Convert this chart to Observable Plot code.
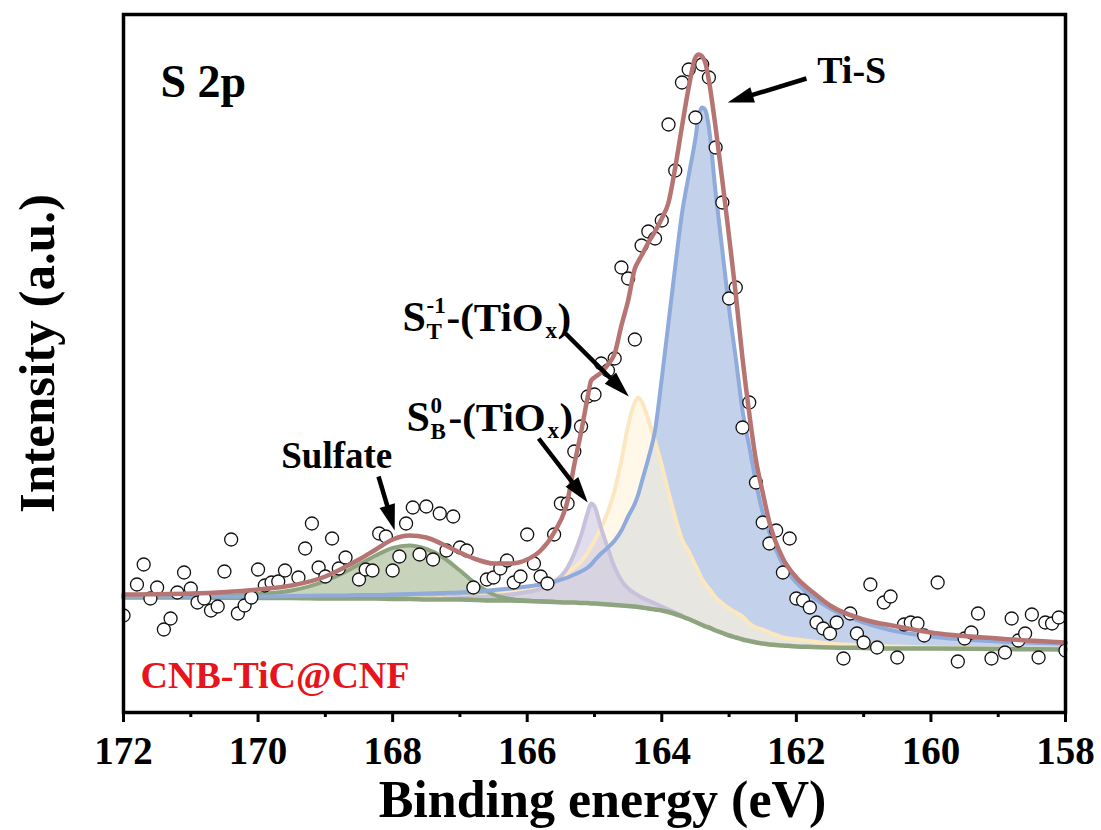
<!DOCTYPE html>
<html><head><meta charset="utf-8">
<script src="https://cdn.jsdelivr.net/npm/d3@7"></script>
<script src="https://cdn.jsdelivr.net/npm/@observablehq/plot@0.6"></script>
<style>
html,body{margin:0;padding:0;background:#fff;}
#chart{width:1101px;height:830px;overflow:hidden;}
</style></head><body><div id="chart"></div>
<script>
// ---------- measured spectrum (binding energy in eV, intensity in a.u.) ----------
const scatterEnergy = [172.0,171.8,171.7,171.6,171.5,171.4,171.3,171.2,171.1,171.0,
170.9,170.8,170.7,170.6,170.5,170.4,170.3,170.2,170.1,170.0,
169.9,169.8,169.7,169.6,169.4,169.3,169.2,169.1,169.0,
168.9,168.8,168.7,168.5,168.4,168.3,168.2,168.1,168.0,
167.9,167.8,167.7,167.6,167.5,167.4,167.3,167.2,167.1,167.0,
166.9,166.8,166.6,166.5,166.4,166.3,166.2,166.1,166.0,
165.9,165.8,165.7,165.6,165.5,165.4,165.3,165.2,165.1,165.0,
164.9,164.8,164.7,164.6,164.5,164.4,164.3,164.2,164.1,164.0,
163.9,163.8,163.7,163.6,163.5,163.4,163.3,163.2,163.1,163.0,
162.9,162.8,162.7,162.6,162.5,162.4,162.3,162.2,162.1,162.0,
161.9,161.8,161.7,161.6,161.5,161.4,161.3,161.2,161.1,161.0,
160.9,160.8,160.7,160.6,160.5,160.4,160.3,160.2,160.1,
159.9,159.6,159.5,159.4,159.3,159.1,
158.9,158.8,158.7,158.6,158.5,158.4,158.3,158.2,158.1,158.0];
const scatterIntensity = [97,128,148,114,125,83,94,120,140,124,
110,114,102,106,141,173,99,107,115,143,
127,130,131,142,135,164,189,145,136,
174,144,155,133,143,142,179,176,142,
156,189,205,158,206,153,199,162,196,165,
162,125,133,135,144,152,130,136,178,
149,136,129,178,209,209,261,286,316,318,
349,342,354,445,434,373,467,481,474,492,
588,542,630,643,595,648,635,565,510,414,
425,285,310,230,190,169,182,140,174,114,
112,105,90,84,79,90,54,99,79,70,
128,65,110,116,55,88,90,89,77,
130,51,74,80,99,54,
60,94,72,79,98,55,90,89,95,62];

// ---------- fitted curves, read on a common energy grid ----------
const fitEnergy = [172,171,170,169.5,169,168.75,168.5,168.25,168,167.75,167.5,167.25,167,166.75,166.5,166.25,166,165.8,165.6,165.4,165.3,165.2,165.1,165.05,165,164.9,164.8,164.7,164.6,164.5,164.4,164.35,164.3,164.2,164.1,164,163.9,163.8,163.7,163.6,163.5,163.45,163.4,163.35,163.3,163.2,163.1,163,162.9,162.8,162.7,162.6,162.5,162.4,162.2,162,161.75,161.5,161,160.5,160,159,158];
const background = [115,115,114.5,114.5,114,114,114,114,113.5,113.5,113,113,113,112.5,112,112,111.5,111,110.5,110,110,109.5,109.5,109,109,108.5,108,107.5,107,106.5,106,105.5,105,104,103,102,100.5,98.5,96,93.5,90.5,89,87.5,86,85,82,79.5,77,75,73,71.5,70,69,68,67,66,65.5,65,64.5,64,64,63.5,63];
const sulfatePeak = [115.5,116,118.5,122,131.5,139,148,157,164.5,167,163.5,155,142,128,118,113.5,112,111.2,110.7,
  null,null,null,null,null,null,null,null,null,null,null,null,null,null,null,null,null,null,null,null,null,null,null,null,null,null,null,null,null,null,null,null,null,null,null,null,null,null,null,null,null,null,null,null,null];
const sBPeak = [null,null,null,null,null,null,null,null,null,null,null,
  114,114.5,115.5,116.5,118,120.5,123.5,130,145,159,177,200,209,206,184,164,145,132,124,119,117,115,112,109,106,103,100,97,
  null,null,null,null,null,null,null,null,null,null,null,null,null,null,null,null,null,null,null,null,null,null,null,null];
const sTPeak = [null,null,null,null,null,null,null,null,null,
  114,114,114.5,115,116,117.5,120,123.5,127,132,140,145,151,160,166,172,185,201,222,252,287,310,315,311,293,271,247,220,195,173,161,147,140,133,128,124,115,109,104,100,96,89,85,83,80,75,73,71,69,67,66,65,64,63.5];
const tiSPeak = [116,116,116,116.5,117,117,117.5,117.5,118,118.5,119,119.5,120,121,122.5,124,126,128,131,135,138,141,145,148,152,159,165,172,182,196,209,218,230,254,282,334,390,446,499,537,574,597,605,602,585,520,462,404,354,302,266,230,200,180,148,130,115,104,90,81,76,71,69];
const envelopeFit = [118,119,123,127,136,144,153,163,173,177,175,168,160,153,149,149,153,162,180,212,248,280,316,332,335,340,348,359,387,412,444,451,457,470,481,494,510,545,586,625,655,658,656,649,632,585,532,476,418,354,299,252,220,190,154,135,120,107,93,86,80,74,70];

const majorTicks = [172,170,168,166,164,162,160,158];
const minorTicks = [171,169,167,165,163,161,159];

// ---------- layout ----------
const W = 1101, H = 830, mL = 123, mR = 36, mT = 14, mB = 118;
const xDomain = [172, 158], yDomain = [0, 698];
const pxPerEV = (W - mL - mR) / (xDomain[0] - xDomain[1]);
const pxPerI = (H - mT - mB) / (yDomain[1] - yDomain[0]);
const FONT = "'Liberation Serif','Times New Roman',Times,serif";

// ---------- tables ----------
const points = scatterEnergy.map((e, i) => ({e, v: scatterIntensity[i]}));
function comp(arr) {
  return fitEnergy.map((e, i) => ({e, v: arr[i], b: background[i]})).filter(d => d.v != null);
}
const bgT = comp(background), sulT = comp(sulfatePeak), sbT = comp(sBPeak),
      stT = comp(sTPeak), tiT = comp(tiSPeak), envT = comp(envelopeFit);

// ---------- annotations ----------
const arrowSpecs = [
  {x1: 161.85, y1: 634, x2: 163.02, y2: 610},  // Ti-S
  {x1: 165.43, y1: 379, x2: 164.49, y2: 316},  // S_T
  {x1: 165.83, y1: 274, x2: 165.10, y2: 210},  // S_B
  {x1: 168.21, y1: 236, x2: 167.97, y2: 182}   // Sulfate
];
const arrows = arrowSpecs.map(a => {
  const dxs = -(a.x2 - a.x1) * pxPerEV, dys = -(a.y2 - a.y1) * pxPerI;
  const len = Math.hypot(dxs, dys), ux = dxs / len, uy = dys / len;
  const back = 14;
  return {...a, angle: Math.atan2(dxs, -dys) * 180 / Math.PI,
          sx: a.x2 + back * ux / pxPerEV, sy: a.y2 + back * uy / pxPerI};
});
const arrowHead = {draw(ctx) { ctx.moveTo(0, 0); ctx.lineTo(8, 26); ctx.lineTo(-8, 26); ctx.closePath(); }};

const pieces = [
  // S_T^-1-(TiO_x)
  {x: 167.853, y: 382, t: "S", dx: 0, sh: 0, fs: 42},
  {x: 167.853, y: 382, t: "-1", dx: 24, sh: -18, fs: 23},
  {x: 167.853, y: 382, t: "T", dx: 24, sh: 8, fs: 23},
  {x: 167.853, y: 382, t: "-(TiO", dx: 44, sh: 0, fs: 41},
  {x: 167.853, y: 382, t: "x", dx: 143, sh: 7, fs: 23},
  {x: 167.853, y: 382, t: ")", dx: 155, sh: 0, fs: 41},
  // S_B^0-(TiO_x)
  {x: 167.794, y: 282, t: "S", dx: 0, sh: 0, fs: 42},
  {x: 167.794, y: 282, t: "0", dx: 24, sh: -18, fs: 23},
  {x: 167.794, y: 282, t: "B", dx: 24, sh: 8, fs: 23},
  {x: 167.794, y: 282, t: "-(TiO", dx: 42, sh: 0, fs: 41},
  {x: 167.794, y: 282, t: "x", dx: 141, sh: 7, fs: 23},
  {x: 167.794, y: 282, t: ")", dx: 153, sh: 0, fs: 41},
  // Ti-S
  {x: 161.69, y: 630, t: "Ti-S", dx: 0, sh: 0, fs: 38}
];

const curve = "monotone-x";
const plot = Plot.plot({
  width: W, height: H,
  marginLeft: mL, marginRight: mR, marginTop: mT, marginBottom: mB,
  x: {domain: xDomain},
  y: {domain: yDomain, axis: null},
  style: {fontFamily: FONT, fontWeight: "bold", background: "white", color: "black"},
  marks: [
    // fills
    Plot.area(tiT, {x1: "e", y1: "b", y2: "v", fill: "#c3d2ea", curve}),
    Plot.area(stT, {x1: "e", y1: "b", y2: "v", fill: "#fff4d9", fillOpacity: 0.6, curve}),
    Plot.area(sbT, {x1: "e", y1: "b", y2: "v", fill: "#cdc6df", fillOpacity: 0.6, curve}),
    Plot.area(sulT, {x1: "e", y1: "b", y2: "v", fill: "#a4b58f", fillOpacity: 0.6, curve}),
    // component strokes
    Plot.line(stT, {x: "e", y: "v", stroke: "#fce8c0", strokeWidth: 4, curve}),
    Plot.line(sbT, {x: "e", y: "v", stroke: "#c8c1dc", strokeWidth: 4, curve}),
    Plot.line(bgT, {x: "e", y: "v", stroke: "#8da47f", strokeWidth: 4.5, curve}),
    Plot.line(sulT, {x: "e", y: "v", stroke: "#8da47f", strokeWidth: 4, curve}),
    Plot.line(tiT, {x: "e", y: "v", stroke: "#8eabdb", strokeWidth: 4, curve}),
    // data
    Plot.dot(points, {x: "e", y: "v", r: 6.5, stroke: "#111", strokeWidth: 1.3, fill: "white", clip: true}),
    // envelope
    Plot.line(envT, {x: "e", y: "v", stroke: "#b67472", strokeWidth: 4.5, curve}),
    // arrows
    Plot.link(arrows, {x1: "x1", y1: "y1", x2: "sx", y2: "sy", stroke: "black", strokeWidth: 4.5}),
    Plot.dot(arrows, {x: "x2", y: "y2", rotate: "angle", symbol: arrowHead, fill: "black", stroke: "none", r: 10}),
    // labels
    ...pieces.map(p => Plot.text([p], {x: "x", y: "y", text: "t", dx: p.dx, dy: p.sh - 0.32 * p.fs,
      fontSize: p.fs, textAnchor: "start"})),
    Plot.text(["Sulfate"], {x: () => 168.83, y: () => 245, text: d => d, fontSize: 37, dy: -0.32 * 37}),
    Plot.text(["S 2p"], {frameAnchor: "top-left", text: d => d, fontSize: 46, textAnchor: "start",
      lineAnchor: "top", dx: 37, dy: 50}),
    Plot.text(["CNB-TiC@CNF"], {frameAnchor: "bottom-left", text: d => d, fontSize: 38, textAnchor: "start",
      lineAnchor: "top", dx: 17, dy: -51, fill: "#e8141b"}),
    Plot.text(["Binding energy (eV)"], {frameAnchor: "bottom", text: d => d, fontSize: 52,
      lineAnchor: "top", dx: 8, dy: 68}),
    Plot.text(["Intensity (a.u.)"], {frameAnchor: "left", text: d => d, fontSize: 51, rotate: -90,
      textAnchor: "middle", lineAnchor: "top", dx: -106, dy: -10}),
    // axes & frame
    Plot.axisX({ticks: minorTicks, tickSize: 5, strokeWidth: 3, tickFormat: () => "", label: null}),
    Plot.axisX({ticks: majorTicks, tickSize: 10, tickPadding: 14, strokeWidth: 3, fontSize: 39,
      tickFormat: d => String(d), label: null}),
    Plot.frame({stroke: "black", strokeWidth: 3.5})
  ]
});
document.getElementById("chart").appendChild(plot);
</script>
</body></html>
